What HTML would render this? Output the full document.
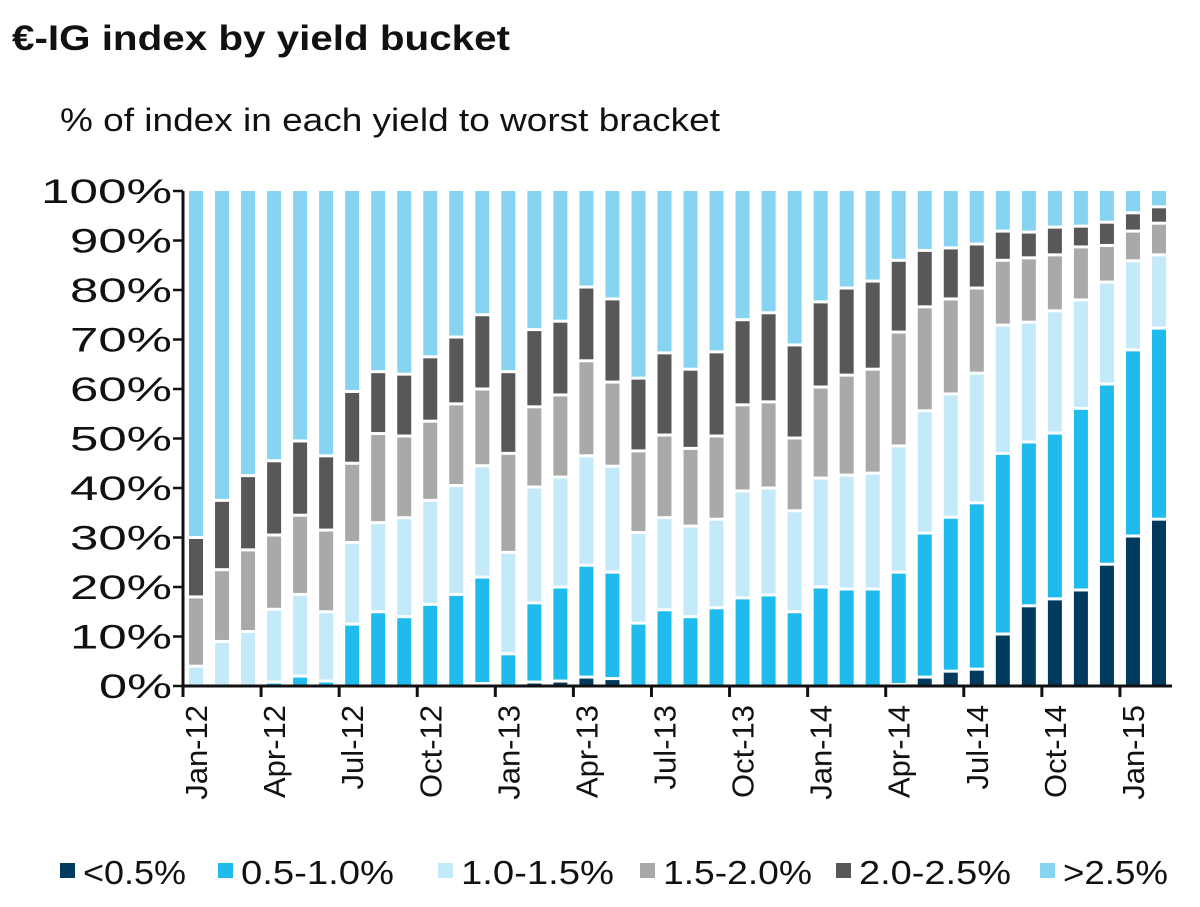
<!DOCTYPE html>
<html><head><meta charset="utf-8"><style>
html,body{margin:0;padding:0;background:#fff;width:1200px;height:907px;overflow:hidden}
svg{display:block;font-family:"Liberation Sans",sans-serif}
</style></head><body>
<svg id="chart" width="1200" height="907">
<text x="12" y="50" font-size="35" font-weight="bold" fill="#111" textLength="498" lengthAdjust="spacingAndGlyphs">€-IG index by yield bucket</text>
<text x="60" y="131" font-size="32" fill="#111" textLength="660" lengthAdjust="spacingAndGlyphs">% of index in each yield to worst bracket</text>
<g id="bars"></g>
<g id="axes"></g>
<g id="legend"></g>
</svg>
<script>
const months = ["Jan-12","Feb-12","Mar-12","Apr-12","May-12","Jun-12","Jul-12","Aug-12","Sep-12","Oct-12","Nov-12","Dec-12","Jan-13","Feb-13","Mar-13","Apr-13","May-13","Jun-13","Jul-13","Aug-13","Sep-13","Oct-13","Nov-13","Dec-13","Jan-14","Feb-14","Mar-14","Apr-14","May-14","Jun-14","Jul-14","Aug-14","Sep-14","Oct-14","Nov-14","Dec-14","Jan-15","Feb-15"];
// cumulative share of index with yield below each threshold (%)
const below05 = [0,0,0,0,0,0,0,0,0,0,0,0.5,0,0.8,1,1.8,1.5,0,0,0,0,0,0,0,0,0,0,0.3,1.8,3,3.4,10.5,16.2,17.6,19.4,24.6,30.3,33.7];
const below10 = [0,0,0,0.8,2,1,12.5,15,14,16.5,18.5,22,6.5,16.8,20,24.4,23,12.7,15.4,14,15.8,17.8,18.4,15,20,19.6,19.6,23,30.9,34.1,37,47,49.3,51.1,56.1,61,67.9,72.3];
const below15 = [4,9,11,15.5,18.5,15,29,33,34,37.5,40.5,44.5,27,40.2,42.2,46.5,44.4,31,34,32.3,33.7,39.4,40,35.4,42,42.6,43,48.5,55.6,59,63.2,72.9,73.5,75.8,78,81.6,85.9,87.1];
const below20 = [18,23.5,27.5,30.5,34.5,31.5,45,51,50.5,53.5,57,60,47,56.4,58.8,65.7,61.4,47.5,50.7,48,50.5,56.8,57.4,50.1,60.4,62.8,64,71.5,76.6,78.2,80.4,86,86.5,87.1,88.7,89,91.9,93.5];
const below25 = [30,37.5,42.5,45.5,49.5,46.5,59.5,63.5,63,66.5,70.5,75,63.5,72,73.7,80.6,78.2,62.2,67.3,64,67.5,74,75.4,68.9,77.6,80.4,81.8,86,88,88.5,89.3,91.9,91.7,92.7,92.9,93.7,95.6,96.8];
const seriesNames = ["<0.5%","0.5-1.0%","1.0-1.5%","1.5-2.0%","2.0-2.5%",">2.5%"];
const yTicks = [0,10,20,30,40,50,60,70,80,90,100];
const xLabelIdx = [0,3,6,9,12,15,18,21,24,27,30,33,36];

const colors = ["#003a5d","#1fbbed","#c4e9f8","#a9a9a9","#58585a","#86d3f2"];
const NS="http://www.w3.org/2000/svg";
const X0=183, X1=1172, Y0=686, Y1=191;
const step=(X1-X0)/months.length;
const bw=14;
function y(v){return Y0-(v/100)*(Y0-Y1);}
function xc(i){return X0+step*(i+0.5);}
function mk(tag,attrs,parent){const e=document.createElementNS(NS,tag);for(const k in attrs)e.setAttribute(k,attrs[k]);parent.appendChild(e);return e;}

const bars=document.getElementById('bars');
const cums=[below05,below10,below15,below20,below25];
months.forEach((m,i)=>{
  const bounds=[0,...cums.map(a=>a[i]),100];
  for(let s=0;s<6;s++){
    const lo=bounds[s], hi=bounds[s+1];
    if(hi-lo<=0) continue;
    const top=y(hi)+(s===5?0:1.5);
    const bot=y(lo)-(lo===0?0:1.5);
    const h=bot-top; if(h<=0.5) continue;
    const r=mk('rect',{x:xc(i)-bw/2,y:top,width:bw,height:h,fill:colors[s]},bars);
    
    
  }
});

const axes=document.getElementById('axes');
let l=mk('line',{x1:X0,y1:Y1,x2:X0,y2:Y0+1.5,stroke:'#111','stroke-width':3},axes);


l=mk('line',{x1:X0-1.5,y1:Y0,x2:X1,y2:Y0,stroke:'#111','stroke-width':3},axes);


yTicks.forEach(v=>{
  const t=mk('line',{x1:X0-10,y1:y(v),x2:X0,y2:y(v),stroke:'#111','stroke-width':2.5},axes);
  
  
  const lbl=v+'%';
  const tx=mk('text',{x:172,y:y(v)+12,'font-size':34,'text-anchor':'end',fill:'#111',textLength:(lbl.length-1)*29+44,lengthAdjust:'spacingAndGlyphs'},axes);
  tx.textContent=lbl;
  
  
});
xLabelIdx.forEach(i=>{
  const tk=mk('line',{x1:X0+step*i,y1:Y0,x2:X0+step*i,y2:Y0+11,stroke:'#111','stroke-width':3},axes);
  
  
  const tx=mk('text',{transform:'translate('+(xc(i)+11)+','+(Y0+19)+') rotate(-90)','font-size':31,'text-anchor':'end',fill:'#111'},axes);
  tx.textContent=months[i];
  
  
});

const legend=document.getElementById('legend');
const lx=[60,218,438,640,836,1040];
const lw=[103,153,153,149,152,105];
seriesNames.forEach((n,s)=>{
  const g=mk('g',{},legend);
  
  
  mk('rect',{x:lx[s],y:863,width:15,height:15,fill:colors[s]},g);
  const t=mk('text',{x:lx[s]+23,y:884,'font-size':33,fill:'#111',textLength:lw[s],lengthAdjust:'spacingAndGlyphs'},g);
  t.textContent=n;
});
</script>
</body></html>
